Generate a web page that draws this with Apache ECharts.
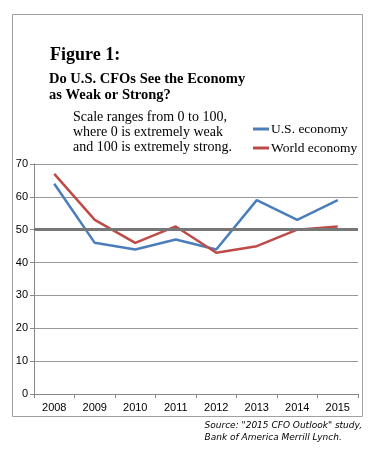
<!DOCTYPE html>
<html><head><meta charset="utf-8">
<script src="https://cdn.jsdelivr.net/npm/echarts@6/dist/echarts.min.js"></script>
<style>html,body{margin:0;padding:0;background:#fff}#c{width:369px;height:455px}</style>
</head><body><div id="c"></div>
<script>
const categories = ['2008','2009','2010','2011','2012','2013','2014','2015'];
const usEconomy = [64, 46, 44, 47, 44, 59, 53, 59];
const worldEconomy = [67, 53, 46, 51, 43, 45, 50, 51];
const seriesNames = ['U.S. economy', 'World economy'];
const yTicks = {min: 0, max: 70, interval: 10};
const neutralLevel = 50;

const chart = echarts.init(document.getElementById('c'), null, {renderer: 'canvas'});
const serif = '"Liberation Serif", "DejaVu Serif", serif';
chart.setOption({
  animation: false,
  backgroundColor: '#fff',
  grid: {left: 34, right: 11, top: 164, bottom: 61},
  graphic: [
    {type: 'rect', shape: {x: 12.5, y: 14.5, width: 350, height: 402}, style: {fill: 'none', stroke: '#a0a0a0', lineWidth: 1}, z: 0},
    {type: 'text', left: 50, top: 46, style: {text: 'Figure 1:', font: 'bold 18px ' + serif, fill: '#000'}},
    {type: 'text', left: 49, top: 71, style: {text: 'Do U.S. CFOs See the Economy\nas Weak or Strong?', font: 'bold 14.5px ' + serif, lineHeight: 16, fill: '#000'}},
    {type: 'text', left: 73, top: 110, style: {text: 'Scale ranges from 0 to 100,\nwhere 0 is extremely weak\nand 100 is extremely strong.', font: '14px ' + serif, lineHeight: 15, fill: '#000'}},
    {type: 'text', right: 7, top: 420, style: {text: 'Source: "2015 CFO Outlook" study,\nBank of America Merrill Lynch.', font: 'italic 9px "DejaVu Sans", sans-serif', lineHeight: 12, align: 'right', fill: '#000'}}
  ],
  legend: {
    orient: 'vertical', left: 253, top: 122, itemGap: 5, padding: 0,
    itemWidth: 16, itemHeight: 3, icon: 'rect',
    textStyle: {fontFamily: serif, fontSize: 13.5, color: '#000', padding: [0,0,0,-3]},
    data: seriesNames
  },
  xAxis: {
    type: 'category', data: categories, boundaryGap: true,
    axisLine: {lineStyle: {color: '#888', width: 1}},
    axisTick: {show: true, length: 4, lineStyle: {color: '#888'}},
    axisLabel: {color: '#000', fontSize: 11, fontFamily: '"Liberation Sans Narrow", "Liberation Sans", Arial, sans-serif', margin: 8}
  },
  yAxis: {
    type: 'value', min: yTicks.min, max: yTicks.max, interval: yTicks.interval,
    axisLine: {show: true, lineStyle: {color: '#888', width: 1}},
    axisTick: {show: true, length: 4, lineStyle: {color: '#888'}},
    axisLabel: {color: '#000', fontSize: 11, fontFamily: '"Liberation Sans Narrow", "Liberation Sans", Arial, sans-serif', margin: 6},
    splitLine: {lineStyle: {color: '#999', width: 1}}
  },
  series: [
    {type: 'line', data: [], z: 1, silent: true,
      markLine: {silent: true, symbol: 'none', label: {show: false},
        lineStyle: {color: '#777', width: 3, type: 'solid'},
        data: [{yAxis: neutralLevel}]}},
    {name: seriesNames[0], type: 'line', data: usEconomy, z: 3, symbol: 'none',
      color: '#4a7ebb', lineStyle: {width: 2.5, color: '#4a7ebb'}},
    {name: seriesNames[1], type: 'line', data: worldEconomy, z: 3, symbol: 'none',
      color: '#be4b48', lineStyle: {width: 2.5, color: '#be4b48'}}
  ]
});
</script></body></html>
